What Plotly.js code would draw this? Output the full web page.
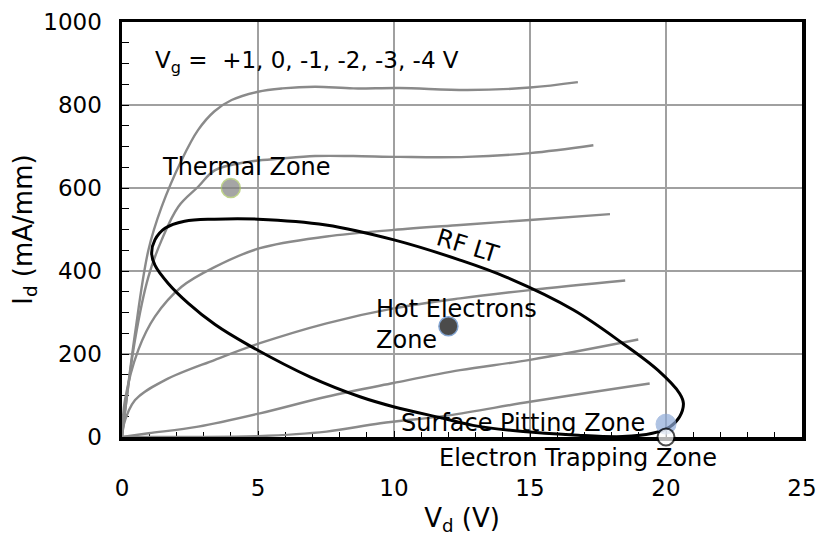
<!DOCTYPE html>
<html>
<head>
<meta charset="utf-8">
<script src="https://cdn.plot.ly/plotly-3.0.1.min.js"></script>
<style>
  html, body { margin: 0; padding: 0; background: #ffffff; }
  #chart { width: 818px; height: 536px; }
</style>
</head>
<body>
<div id="chart"></div>
<script>
// ---- I-V curves (Vd in V, Id in mA/mm) ----
const vg1_x = [0, 0.48, 0.97, 1.46, 2.19, 2.8, 3.4, 4.03, 5.0, 5.9, 7.1, 8.5, 10.2, 12.7, 15.0, 16.76];
const vg1_y = [0, 250, 450, 555, 667, 740, 785, 812, 832, 840, 844, 840, 841, 836, 842, 855];

const vg0_x = [0, 0.48, 0.97, 1.46, 2.07, 2.8, 3.42, 4.64, 5.87, 7.1, 8.5, 10.2, 12.67, 15.0, 17.33];
const vg0_y = [0, 235, 386, 475, 555, 603, 643, 663, 671, 677, 677, 675, 675, 684, 703];

const vgm1_x = [0, 0.11, 0.6, 1.21, 2.19, 3.42, 5.07, 7.52, 9.98, 12.43, 15.0, 17.94];
const vgm1_y = [0, 89, 210, 290, 362, 410, 455, 483, 499, 511, 523, 537];

const vgm2_x = [0, 0.04, 0.48, 1.58, 3.42, 5.07, 7.52, 9.98, 12.43, 15.0, 18.5];
const vgm2_y = [0, 24, 89, 137, 186, 226, 274, 310, 334, 354, 377];

const vgm3_x = [0, 0.98, 2.8, 5.07, 7.52, 9.98, 12.43, 15.0, 18.98];
const vgm3_y = [0, 9, 25, 57, 97, 130, 161, 186, 235];

const vgm4_x = [0, 2.5, 5.0, 7.52, 9.5, 12.0, 15.0, 19.4];
const vgm4_y = [0, 0, 2, 13, 33, 52, 85, 129];

// ---- RF load trajectory (closed loop) ----
const rf_x = [10.0, 12.4, 14.1, 16.6, 18.4, 19.7, 20.5, 20.64, 20.5, 20.15, 19.5, 18.4, 16.6, 14.75, 12.9, 11.81, 9.98, 8.75, 6.91, 4.64, 3.42, 2.44, 1.70, 1.21, 1.09, 1.21, 1.58, 2.3, 3.4, 5.0, 7.5, 10.0];
const rf_y = [475, 427, 386, 306, 226, 161, 105, 81, 49, 25, 9, 1, 5, 13, 28, 45, 73, 97, 145, 222, 271, 322, 370, 414, 443, 475, 503, 520, 525, 525, 511, 475];

// ---- Degradation zones ----
const zone_names = ["Thermal Zone", "Hot Electrons Zone", "Surface Pitting Zone", "Electron Trapping Zone"];
const zone_x = [4, 12, 20, 20];
const zone_y = [600, 267, 31, 0];

// ---- Axis ticks ----
const x_ticks = [0, 5, 10, 15, 20, 25];
const y_ticks = [0, 200, 400, 600, 800, 1000];

const FONT = "DejaVu Sans, Arial, sans-serif";
const curveStyle = {color: "#8a8a8a", width: 2.4, shape: "spline", smoothing: 1};

const ivSets = [
  ["Vg = +1 V", vg1_x, vg1_y],
  ["Vg = 0 V", vg0_x, vg0_y],
  ["Vg = -1 V", vgm1_x, vgm1_y],
  ["Vg = -2 V", vgm2_x, vgm2_y],
  ["Vg = -3 V", vgm3_x, vgm3_y],
  ["Vg = -4 V", vgm4_x, vgm4_y]
];

const traces = ivSets.map(s => ({
  type: "scatter", mode: "lines", name: s[0], x: s[1], y: s[2],
  line: curveStyle, hoverinfo: "x+y"
}));

traces.push({
  type: "scatter", mode: "lines", name: "RF LT", x: rf_x, y: rf_y,
  line: {color: "#000000", width: 3, shape: "spline", smoothing: 1}
});

traces.push({
  type: "scatter", mode: "markers", name: "Zones",
  x: zone_x, y: zone_y, text: zone_names, cliponaxis: false,
  marker: {
    size: [19, 19, 20, 17],
    color: ["#7f7f7f", "#000000", "#8eaad8", "#ffffff"],
    line: {color: ["#a4c15a", "#4f7fbf", "#8eaad8", "#000000"], width: [1.5, 1.5, 1, 2]}
  }
});

const annFont = {family: FONT, size: 24, color: "#000000"};

const layout = {
  width: 818, height: 536,
  margin: {l: 122, r: 16, t: 22, b: 99, pad: 0},
  paper_bgcolor: "#ffffff", plot_bgcolor: "#ffffff",
  showlegend: false,
  font: {family: FONT, size: 23, color: "#000000"},
  xaxis: {
    range: [0, 25], tickvals: x_ticks, ticktext: x_ticks.map(String),
    showgrid: true, gridcolor: "#a0a0a0", gridwidth: 1.3, zeroline: false,
    showline: true, linecolor: "#000000", linewidth: 3.5, mirror: true,
    ticks: "inside", ticklen: 6, tickwidth: 1, tickcolor: "#000000",
    ticklabelstandoff: 28, layer: "below traces",
    tickfont: {family: FONT, size: 23, color: "#000000"},
    minor: {dtick: 1, ticks: "inside", ticklen: 5, tickwidth: 1, tickcolor: "#000000", showgrid: false},
    title: {text: "V<sub>d</sub> (V)", font: {family: FONT, size: 26, color: "#000000"}, standoff: 12},
    automargin: false, fixedrange: true
  },
  yaxis: {
    range: [0, 1000], tickvals: y_ticks, ticktext: y_ticks.map(String),
    showgrid: true, gridcolor: "#a0a0a0", gridwidth: 1.3, zeroline: false,
    showline: true, linecolor: "#000000", linewidth: 3.5, mirror: true,
    ticks: "inside", ticklen: 7, tickwidth: 1, tickcolor: "#000000",
    ticklabelstandoff: 12, layer: "below traces",
    tickfont: {family: FONT, size: 23, color: "#000000"},
    minor: {dtick: 50, ticks: "inside", ticklen: 7, tickwidth: 1, tickcolor: "#000000", showgrid: false},
    title: {text: "I<sub>d</sub> (mA/mm)", font: {family: FONT, size: 26, color: "#000000"}, standoff: 4},
    automargin: false, fixedrange: true
  },
  annotations: [
    {text: "V<sub>g</sub> =&nbsp; +1, 0, -1, -2, -3, -4 V", x: 1.15, y: 904, xref: "x", yref: "y",
     xanchor: "left", yanchor: "middle", showarrow: false, font: {family: FONT, size: 23, color: "#000000"}},
    {text: "Thermal Zone", x: 1.40, y: 651, xref: "x", yref: "y",
     xanchor: "left", yanchor: "middle", showarrow: false, font: annFont},
    {text: "Hot Electrons<br>Zone", x: 9.25, y: 272, xref: "x", yref: "y", align: "left",
     xanchor: "left", yanchor: "middle", showarrow: false, font: annFont},
    {text: "Surface Pitting Zone", x: 19.29, y: 33, xref: "x", yref: "y",
     xanchor: "right", yanchor: "middle", showarrow: false, font: annFont},
    {text: "Electron Trapping Zone", x: 16.76, y: -0.0516, xref: "x", yref: "paper",
     xanchor: "center", yanchor: "middle", showarrow: false, font: annFont},
    {text: "RF LT", x: 12.72, y: 460, xref: "x", yref: "y", textangle: 17,
     xanchor: "center", yanchor: "middle", showarrow: false, font: annFont}
  ]
};

Plotly.newPlot("chart", traces, layout, {staticPlot: true, displayModeBar: false});
</script>
</body>
</html>
